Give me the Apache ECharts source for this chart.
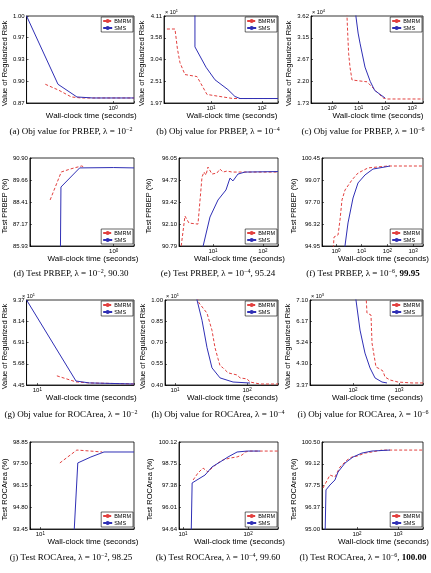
<!DOCTYPE html>
<html>
<head>
<meta charset="utf-8">
<script src="https://cdn.jsdelivr.net/npm/echarts@6/dist/echarts.min.js"></script>
<style>
  html, body { margin: 0; padding: 0; background: #fff; }
  #chart { width: 431px; height: 573px; }
</style>
</head>
<body>
<div id="chart"></div>
<script>
// [time in seconds, value]
const prbepObj2Bmrm = [[0.18, 0.898], [0.254, 0.889], [0.348, 0.879], [0.45, 0.8775], [1.7, 0.8775]];
const prbepObj2Sms = [[0.112, 1.0], [0.248, 0.898], [0.401, 0.879], [0.6, 0.8775], [1.7, 0.8775]];
const prbepObj2Ticks = ['0.87', '0.90', '0.93', '0.97', '1.00'];

const prbepObj4Bmrm = [[1.37, 3.79], [1.97, 3.79], [2.2, 3.3], [2.47, 2.96], [3.09, 2.67], [5.31, 2.62], [6.08, 2.49],
  [8.35, 2.18], [15, 2.13], [27, 2.08], [206, 2.08]];
const prbepObj4Sms = [[4.85, 4.6], [4.85, 3.35], [8, 2.85], [12, 2.54], [21.5, 2.3], [29.5, 2.13], [37.1, 2.08], [206, 2.08]];
const prbepObj4Ticks = ['1.97', '2.51', '3.04', '3.58', '4.11'];

const prbepObj6Bmrm = [[3.5, 3.8], [3.65, 3.6], [3.9, 3.2], [4.2, 2.8], [4.72, 2.51], [5.61, 2.23], [20.5, 2.19],
  [31.5, 2.08], [48.4, 1.97], [81.3, 1.84], [120, 1.817], [2570, 1.817]];
const prbepObj6Sms = [[7.6, 3.8], [7.92, 3.6], [9.5, 3.25], [11.2, 3.03], [17.2, 2.51], [27, 2.2], [40, 2.0],
  [52.8, 1.95], [96.6, 1.84]];
const prbepObj6Ticks = ['1.73', '2.20', '2.67', '3.15', '3.62'];

const prbepTest2Bmrm = [[0.19, 88.53], [0.254, 90.11], [0.323, 90.28], [0.432, 90.45], [0.464, 90.39]];
const prbepTest2Sms = [[0.248, 85.0], [0.252, 89.26], [0.411, 90.34], [1.0, 90.36], [1.7, 90.34]];
const prbepTest2Ticks = ['85.93', '87.17', '88.41', '89.66', '90.90'];

const prbepTest4Bmrm = [[2.25, 90.5], [2.75, 92.58], [3.31, 92.16], [5.01, 92.1], [6.03, 94.91], [6.61, 95.21],
  [7.24, 95.03], [7.94, 95.51], [9.55, 95.09], [12.0, 95.15], [13.8, 95.39], [15.8, 95.21], [19.1, 95.27],
  [24.0, 95.21], [34.7, 95.21], [200, 95.21]];
const prbepTest4Sms = [[6.03, 90.5], [8.71, 92.52], [12.6, 93.54], [18.2, 94.14], [21.9, 94.85], [25.1, 94.68],
  [31.6, 95.09], [43.7, 95.21], [200, 95.24]];
const prbepTest4Ticks = ['90.79', '92.10', '93.42', '94.73', '96.05'];

const prbepTest6Bmrm = [[0.764, 94.5], [0.836, 95.51], [1.2, 95.64], [1.43, 96.58], [1.71, 97.83], [2.24, 98.45],
  [4.19, 99.08], [7.18, 99.51], [17.6, 99.83], [43.1, 99.89], [105, 99.95], [2427, 99.95]];
const prbepTest6Sms = [[2.05, 94.5], [2.93, 96.39], [4.59, 97.95], [7.18, 98.89], [13.4, 99.39], [27.5, 99.76],
  [80.6, 99.89], [126, 99.95]];
const prbepTest6Ticks = ['94.95', '96.32', '97.70', '99.07', '100.45'];

const rocObj2Bmrm = [[15.2, 4.98], [22.9, 4.63], [30.5, 4.57], [79.4, 4.51]];
const rocObj2Sms = [[7.94, 9.37], [22.9, 4.68], [30.5, 4.57], [79.4, 4.51]];
const rocObj2Ticks = ['4.45', '5.68', '6.91', '8.14', '9.37'];

const rocObj4Bmrm = [[20.2, 1.02], [21.5, 0.98], [27.8, 0.907], [32.6, 0.786], [35.9, 0.664], [39.5, 0.586],
  [42.2, 0.536], [46.4, 0.521], [54.5, 0.486], [61.9, 0.479], [72.6, 0.471], [80, 0.45], [100, 0.443],
  [110, 0.421], [152, 0.407], [269, 0.407]];
const rocObj4Sms = [[19.5, 1.05], [20.2, 1.0], [23.7, 0.857], [27.8, 0.664], [32.6, 0.521], [42.2, 0.45],
  [63.9, 0.421], [110, 0.414]];
const rocObj4Ticks = ['0.40', '0.55', '0.70', '0.85', '1.00'];

const rocObj6Bmrm = [[192, 7.3], [201, 6.53], [246, 6.44], [259, 5.21], [286, 5.13], [316, 4.16], [386, 4.07],
  [449, 3.98], [496, 3.72], [637, 3.59], [951, 3.5], [1919, 3.46], [3327, 3.46]];
const rocObj6Sms = [[112, 7.3], [116, 7.1], [142, 5.78], [182, 4.77], [234, 4.12], [301, 3.68], [427, 3.5], [548, 3.46]];
const rocObj6Ticks = ['3.37', '4.30', '5.24', '6.17', '7.10'];

const rocTest2Bmrm = [[15.4, 97.55], [22.4, 98.35], [30.0, 98.29], [39.3, 98.23]];
const rocTest2Sms = [[21.0, 93.0], [22.9, 97.55], [30.6, 97.92], [40.9, 98.23], [79.4, 98.23]];
const rocTest2Ticks = ['93.45', '94.80', '96.15', '97.50', '98.85'];

const rocTest4Bmrm = [[14.3, 97.73], [17.0, 98.17], [20.3, 98.48], [24.2, 98.23], [28.9, 98.55], [34.5, 98.8],
  [41.2, 98.99], [52.8, 99.11], [67.7, 99.18], [80.9, 99.3], [89.9, 99.49], [107, 99.55], [288, 99.55]];
const rocTest4Sms = [[13.3, 94.0], [13.8, 97.54], [16.4, 97.73], [21.8, 98.04], [27.9, 98.55], [37.1, 98.86],
  [49.2, 99.18], [67.7, 99.49], [96.5, 99.55], [153, 99.55]];
const rocTest4Ticks = ['94.64', '96.01', '97.38', '98.75', '100.12'];

const rocTest6Bmrm = [[14.8, 97.59], [21.9, 98.41], [29.0, 98.29], [38.5, 98.92], [57.0, 99.36], [75.5, 99.55],
  [100, 99.61], [157, 99.8], [232, 99.87], [407, 99.99], [4070, 99.99]];
const rocTest6Sms = [[16.6, 94.5], [17.5, 97.47], [21.9, 97.78], [29.0, 98.1], [34.4, 98.6], [51.0, 99.17],
  [79.8, 99.55], [132, 99.8], [232, 99.93], [638, 99.99]];
const rocTest6Ticks = ['95.00', '96.37', '97.75', '99.12', '100.50'];

const OBJ = 'Value of Regularized Risk';
const PRB = 'Test PRBEP (%)';
const ROC = 'Test ROCArea (%)';

// rect = [left, top, width, height] of each plot box
const panels = [
  { bmrm: prbepObj2Bmrm, sms: prbepObj2Sms, ticks: prbepObj2Ticks, x: [0.112, 1.70], y: [0.87, 1.00], rect: [21, 16, 113, 87], yName: OBJ, gap: 14, leg: 'top',
    caption: '(a) Obj value for PRBEP, λ = 10{s|−2}', cx: 71, cy: 132 },
  { bmrm: prbepObj4Bmrm, sms: prbepObj4Sms, ticks: prbepObj4Ticks, x: [1.20, 206], y: [1.97, 4.11], rect: [164, 16, 114, 87], yName: OBJ, gap: 10, leg: 'top',
    caption: '(b) Obj value for PRBEP, λ = 10{s|−4}', cx: 218, cy: 132, mult: '1' },
  { bmrm: prbepObj6Bmrm, sms: prbepObj6Sms, ticks: prbepObj6Ticks, x: [0.163, 2570], y: [1.73, 3.62], rect: [311, 16, 112, 87], yName: OBJ, gap: 12, leg: 'top',
    caption: '(c) Obj value for PRBEP, λ = 10{s|−6}', cx: 363, cy: 132, mult: '4' },
  { bmrm: prbepTest2Bmrm, sms: prbepTest2Sms, ticks: prbepTest2Ticks, x: [0.112, 1.70], y: [85.93, 90.90], rect: [21, 158, 113, 88], yName: PRB, gap: 12, leg: 'bottom',
    caption: '(d) Test PRBEP, λ = 10{s|−2}, 90.30', cx: 71, cy: 274 },
  { bmrm: prbepTest4Bmrm, sms: prbepTest4Sms, ticks: prbepTest4Ticks, x: [2.09, 200], y: [90.79, 96.05], rect: [179, 158, 99, 88], yName: PRB, gap: 26, leg: 'bottom',
    caption: '(e) Test PRBEP, λ = 10{s|−4}, 95.24', cx: 218, cy: 274 },
  { bmrm: prbepTest6Bmrm, sms: prbepTest6Sms, ticks: prbepTest6Ticks, x: [0.285, 2427], y: [94.95, 100.45], rect: [322, 158, 101, 88], yName: PRB, gap: 23, leg: 'bottom',
    caption: '(f) Test PRBEP, λ = 10{s|−6}, {b|99.95}', cx: 363, cy: 274 },
  { bmrm: rocObj2Bmrm, sms: rocObj2Sms, ticks: rocObj2Ticks, x: [7.94, 79.4], y: [4.45, 9.37], rect: [21, 300, 113, 85], yName: OBJ, gap: 14, leg: 'top',
    caption: '(g) Obj value for ROCArea, λ = 10{s|−2}', cx: 71, cy: 415, mult: '1' },
  { bmrm: rocObj4Bmrm, sms: rocObj4Sms, ticks: rocObj4Ticks, x: [7.26, 269], y: [0.40, 1.00], rect: [165, 300, 113, 85], yName: OBJ, gap: 11, leg: 'top',
    caption: '(h) Obj value for ROCArea, λ = 10{s|−4}', cx: 218, cy: 415, mult: '1' },
  { bmrm: rocObj6Bmrm, sms: rocObj6Sms, ticks: rocObj6Ticks, x: [11.6, 3327], y: [3.37, 7.10], rect: [310, 300, 113, 85], yName: OBJ, gap: 12, leg: 'top',
    caption: '(i) Obj value for ROCArea, λ = 10{s|−6}', cx: 363, cy: 415, mult: '3' },
  { bmrm: rocTest2Bmrm, sms: rocTest2Sms, ticks: rocTest2Ticks, x: [7.94, 79.4], y: [93.45, 98.85], rect: [23, 442, 111, 87], yName: ROC, gap: 14, leg: 'bottom',
    caption: '(j) Test ROCArea, λ = 10{s|−2}, 98.25', cx: 71, cy: 558 },
  { bmrm: rocTest4Bmrm, sms: rocTest4Sms, ticks: rocTest4Ticks, x: [8.67, 288], y: [94.64, 100.12], rect: [179, 442, 99, 87], yName: ROC, gap: 25, leg: 'bottom',
    caption: '(k) Test ROCArea, λ = 10{s|−4}, 99.60', cx: 218, cy: 558 },
  { bmrm: rocTest6Bmrm, sms: rocTest6Sms, ticks: rocTest6Ticks, x: [14.0, 4074], y: [95.00, 100.50], rect: [322, 442, 101, 87], yName: ROC, gap: 23, leg: 'bottom',
    caption: '(l) Test ROCArea, λ = 10{s|−6}, {b|100.00}', cx: 363, cy: 558 }
];

const W = 431, H = 573;
const SANS = '"Liberation Sans", Arial, sans-serif';
const SERIF = '"Liberation Serif", "Times New Roman", serif';
const RED = '#e2403f';
const BLUE = '#2f2fb5';

function logLabel(v) {
  const e = Math.log10(v);
  const r = Math.round(e);
  if (Math.abs(e - r) > 0.01) return '';
  return '10{s|' + String(r).replace('-', '−') + '}';
}

const grid = [], xAxis = [], yAxis = [], series = [], legend = [], graphic = [];

panels.forEach((p, i) => {
  const [l, t, w, h] = p.rect;
  grid.push({ left: l, top: t, width: w, height: h, show: true, borderColor: '#000', borderWidth: 0.8 });

  xAxis.push({
    gridIndex: i, type: 'log', logBase: 10, min: p.x[0], max: p.x[1],
    name: 'Wall-clock time (seconds)', nameLocation: 'middle', nameGap: 9,
    nameTextStyle: { fontSize: 8, fontFamily: SANS, color: '#000', padding: [0, 0, 0, 22] },
    axisLine: { lineStyle: { color: '#000', width: 0.8 } },
    axisTick: { inside: true, length: 2, lineStyle: { color: '#000', width: 0.6 } },
    axisLabel: { fontSize: 6, margin: 2, color: '#000', fontFamily: SANS, formatter: logLabel,
      rich: { s: { fontSize: 4.5, verticalAlign: 'top', fontFamily: SANS, color: '#000' } } },
    splitLine: { show: false }
  });

  const step = (p.y[1] - p.y[0]) / 4;
  const tickVals = p.ticks.map((_, k) => p.y[0] + k * step);
  yAxis.push({
    gridIndex: i, type: 'value', min: p.y[0], max: p.y[1],
    name: p.yName, nameLocation: 'middle', nameGap: p.gap,
    nameTextStyle: { fontSize: 7.5, fontFamily: SANS, color: '#000', padding: [0, 8, 0, 0] },
    axisLine: { show: true, lineStyle: { color: '#000', width: 0.8 } },
    axisTick: { show: true, inside: true, length: 2, customValues: tickVals, lineStyle: { color: '#000', width: 0.6 } },
    axisLabel: { fontSize: 6, margin: 2, color: '#000', fontFamily: SANS, customValues: tickVals,
      formatter: v => p.ticks[Math.round((v - p.y[0]) / step)] },
    splitLine: { show: false }
  });

  series.push({
    name: 'BMRM', type: 'line', xAxisIndex: i, yAxisIndex: i, data: p.bmrm, symbol: 'none', clip: true,
    lineStyle: { color: RED, width: 1, type: [3, 2] }, itemStyle: { color: RED }
  });
  series.push({
    name: 'SMS', type: 'line', xAxisIndex: i, yAxisIndex: i, data: p.sms, symbol: 'none', clip: true,
    lineStyle: { color: BLUE, width: 1 }, itemStyle: { color: BLUE }
  });

  const leg = {
    data: ['BMRM', 'SMS'], orient: 'vertical', right: W - (l + w) + 1,
    itemWidth: 9, itemHeight: 5, itemGap: 1, padding: [1, 2, 1, 1],
    borderColor: '#000', borderWidth: 0.6, backgroundColor: '#fff', selectedMode: false,
    textStyle: { fontSize: 5.5, color: '#000', fontFamily: SANS, padding: [0, 0, 0, -3] }
  };
  if (p.leg === 'top') leg.top = t + 1; else leg.bottom = H - (t + h) + 2;
  legend.push(leg);

  graphic.push({
    type: 'text', x: p.cx, y: p.cy,
    style: { text: p.caption, fontSize: 9, fontFamily: SERIF, fill: '#000', align: 'center', verticalAlign: 'middle', lineHeight: 12,
      rich: { s: { fontSize: 6, fontFamily: SERIF, verticalAlign: 'top' }, b: { fontSize: 9, fontWeight: 'bold', fontFamily: SERIF } } }
  });
  if (p.mult) {
    graphic.push({
      type: 'text', x: l + 1, y: t - 4,
      style: { text: '× 10{s|' + p.mult + '}', fontSize: 5.5, fontFamily: SANS, fill: '#000', align: 'left', verticalAlign: 'middle', lineHeight: 7,
        rich: { s: { fontSize: 4, fontFamily: SANS, verticalAlign: 'top' } } }
    });
  }
});

const chart = echarts.init(document.getElementById('chart'), null, { renderer: 'canvas' });
chart.setOption({
  animation: false,
  backgroundColor: '#fff',
  grid, xAxis, yAxis, series, legend, graphic
});
</script>
</body>
</html>
